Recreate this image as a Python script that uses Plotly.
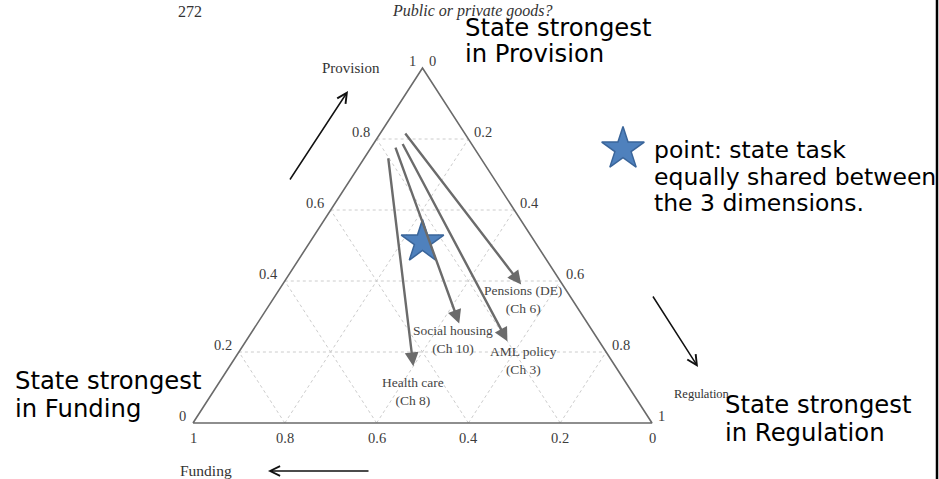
import plotly.graph_objects as go

# ---------------- data (ternary: provision, regulation, funding) ----------------
policy_names = ["Pensions (DE)", "AML policy", "Social housing", "Health care"]
policy_chapters = ["(Ch 6)", "(Ch 3)", "(Ch 10)", "(Ch 8)"]
start_provision = [0.82, 0.79, 0.78, 0.75]
start_regulation = [0.05, 0.06, 0.05, 0.05]
end_provision = [0.39, 0.23, 0.28, 0.16]
end_regulation = [0.52, 0.57, 0.44, 0.40]
label_provision = [0.348, 0.175, 0.235, 0.089]
label_regulation = [0.545, 0.632, 0.448, 0.435]

star_provision = [0.51]
star_regulation = [0.245]

tick_values = [0, 0.2, 0.4, 0.6, 0.8, 1]
tick_labels = ["0", "0.2", "0.4", "0.6", "0.8", "1"]
grid_values = [0.2, 0.4, 0.6, 0.8]

# ---------------- layout constants (pixel frame of the picture) ----------------
W, H = 939, 479
LEFT_X, RIGHT_X, BASE_Y, TOP_Y = 193, 652, 423, 68
TW = RIGHT_X - LEFT_X
TH = BASE_Y - TOP_Y


def xy(p, r):
    """ternary (provision, regulation) -> cartesian of a unit-width triangle"""
    return r + p / 2.0, p


def pp(px, py):
    return px / W, 1 - py / H


fig = go.Figure()

GRID = dict(color="#cccccc", width=1, dash="dot")
# grid lines: constant provision, constant regulation, constant funding
for v in grid_values:
    a, b = xy(v, 0), xy(v, 1 - v)
    fig.add_trace(go.Scatter(x=[a[0], b[0]], y=[a[1], b[1]], mode="lines", line=GRID, hoverinfo="skip"))
    a, b = xy(0, v), xy(1 - v, v)
    fig.add_trace(go.Scatter(x=[a[0], b[0]], y=[a[1], b[1]], mode="lines", line=GRID, hoverinfo="skip"))
    a, b = xy(0, 1 - v), xy(1 - v, 0)
    fig.add_trace(go.Scatter(x=[a[0], b[0]], y=[a[1], b[1]], mode="lines", line=GRID, hoverinfo="skip"))

# triangle outline
corners = [xy(0, 0), xy(0, 1), xy(1, 0), xy(0, 0)]
fig.add_trace(go.Scatter(x=[c[0] for c in corners], y=[c[1] for c in corners], mode="lines",
                         line=dict(color="#6a6a6a", width=1.6), hoverinfo="skip"))

# centre star
sx, sy = zip(*[xy(p, r) for p, r in zip(star_provision, star_regulation)])
STAR = dict(symbol="star", size=32, color="#4F81BD", line=dict(color="#3A659A", width=1.5))
fig.add_trace(go.Scatter(x=list(sx), y=list(sy), mode="markers", marker=STAR, hoverinfo="skip"))

# legend key star (paper-like overlay axes)
kx, ky = pp(623, 149)
fig.add_trace(go.Scatter(x=[kx], y=[ky], xaxis="x2", yaxis="y2", mode="markers", marker=STAR, hoverinfo="skip"))

ann = []
SERIF = "Liberation Serif"
SANS = "DejaVu Sans"

# policy arrows
for i in range(len(policy_names)):
    hx, hy = xy(end_provision[i], end_regulation[i])
    tx, ty = xy(start_provision[i], start_regulation[i])
    ann.append(dict(x=hx, y=hy, ax=tx, ay=ty, xref="x", yref="y", axref="x", ayref="y",
                    showarrow=True, arrowhead=2, arrowsize=1.15, arrowwidth=2.4, arrowcolor="#6b6b6b",
                    standoff=0, text=""))
    lx, ly = xy(label_provision[i], label_regulation[i])
    ann.append(dict(x=lx, y=ly, xref="x", yref="y", showarrow=False,
                    text=policy_names[i] + "<br>" + policy_chapters[i],
                    font=dict(family=SERIF, size=13.5, color="#454545"), xanchor="center", yanchor="middle"))

TICKF = dict(family=SERIF, size=14.5, color="#3c3c3c")
for v, t in zip(tick_values, tick_labels):
    # provision on left edge
    x0, y0 = xy(v, 0)
    ann.append(dict(x=x0, y=y0, xref="x", yref="y", text=t, showarrow=False, font=TICKF,
                    xanchor="right", yanchor="middle", xshift=-5, yshift=7))
    # regulation on right edge
    x1, y1 = xy(1 - v, v)
    ann.append(dict(x=x1, y=y1, xref="x", yref="y", text=t, showarrow=False, font=TICKF,
                    xanchor="left", yanchor="middle", xshift=4, yshift=7))
    # funding on base
    x2, y2 = xy(0, 1 - v)
    ann.append(dict(x=x2, y=y2, xref="x", yref="y", text=t, showarrow=False, font=TICKF,
                    xanchor="center", yanchor="top", yshift=-5))


def txt(px, py, s, family, size, color="#000", anchor="left", italic=False):
    x, y = pp(px, py)
    ann.append(dict(x=x, y=y, xref="paper", yref="paper", text=s, showarrow=False,
                    font=dict(family=family, size=size, color=color, style="italic" if italic else "normal"),
                    xanchor=anchor, yanchor="middle"))


def arrow(px0, py0, px1, py1):
    x0, y0 = pp(px0, py0)
    x1, y1 = pp(px1, py1)
    ann.append(dict(x=x1, y=y1, ax=x0, ay=y0, xref="x2", yref="y2", axref="x2", ayref="y2",
                    showarrow=True, arrowhead=5, arrowsize=1.3, arrowwidth=1.5, arrowcolor="#111",
                    standoff=0, text=""))


# book page header
txt(176, 11, "272", SERIF, 16, "#333")
txt(473, 11, "Public or private goods?", SERIF, 16, "#333", anchor="center", italic=True)

# axis names and direction arrows
txt(351, 68, "Provision", SERIF, 15, "#333", anchor="center")
arrow(289, 181, 348, 91)
txt(206, 470, "Funding", SERIF, 15.5, "#333", anchor="center")
arrow(370, 471, 268, 471)
txt(672, 394, "Regulation", SERIF, 12.5, "#333")
arrow(652, 295, 698, 367)

# overlaid slide texts
BIG = 24.3
LEG = 23.5
txt(463, 28, "State strongest", SANS, BIG)
txt(463, 53, "in Provision", SANS, BIG)
txt(652, 150, "point: state task", SANS, LEG)
txt(652, 177, "equally shared between", SANS, LEG)
txt(652, 203, "the 3 dimensions.", SANS, LEG)
txt(13, 380, "State strongest", SANS, BIG)
txt(13, 408, "in Funding", SANS, BIG)
txt(723, 404, "State strongest", SANS, BIG)
txt(723, 432, "in Regulation", SANS, BIG)

fig.update_layout(
    width=W, height=H, margin=dict(l=0, r=0, t=0, b=0),
    paper_bgcolor="white", plot_bgcolor="white", showlegend=False,
    xaxis=dict(range=[-LEFT_X / TW, (W - LEFT_X) / TW], visible=False, fixedrange=True),
    yaxis=dict(range=[(BASE_Y - H) / TH, BASE_Y / TH], visible=False, fixedrange=True),
    xaxis2=dict(range=[0, 1], visible=False, overlaying="x", fixedrange=True),
    yaxis2=dict(range=[0, 1], visible=False, overlaying="y", fixedrange=True),
    annotations=ann,
    shapes=[dict(type="line", xref="paper", yref="paper", x0=937 / W, x1=937 / W, y0=0, y1=1,
                 line=dict(color="black", width=2.5))],
)

fig.write_html(
    "out.html",
    config={"displayModeBar": False},
    post_script="document.body.style.margin='0px';document.body.style.overflow='hidden';",
)
